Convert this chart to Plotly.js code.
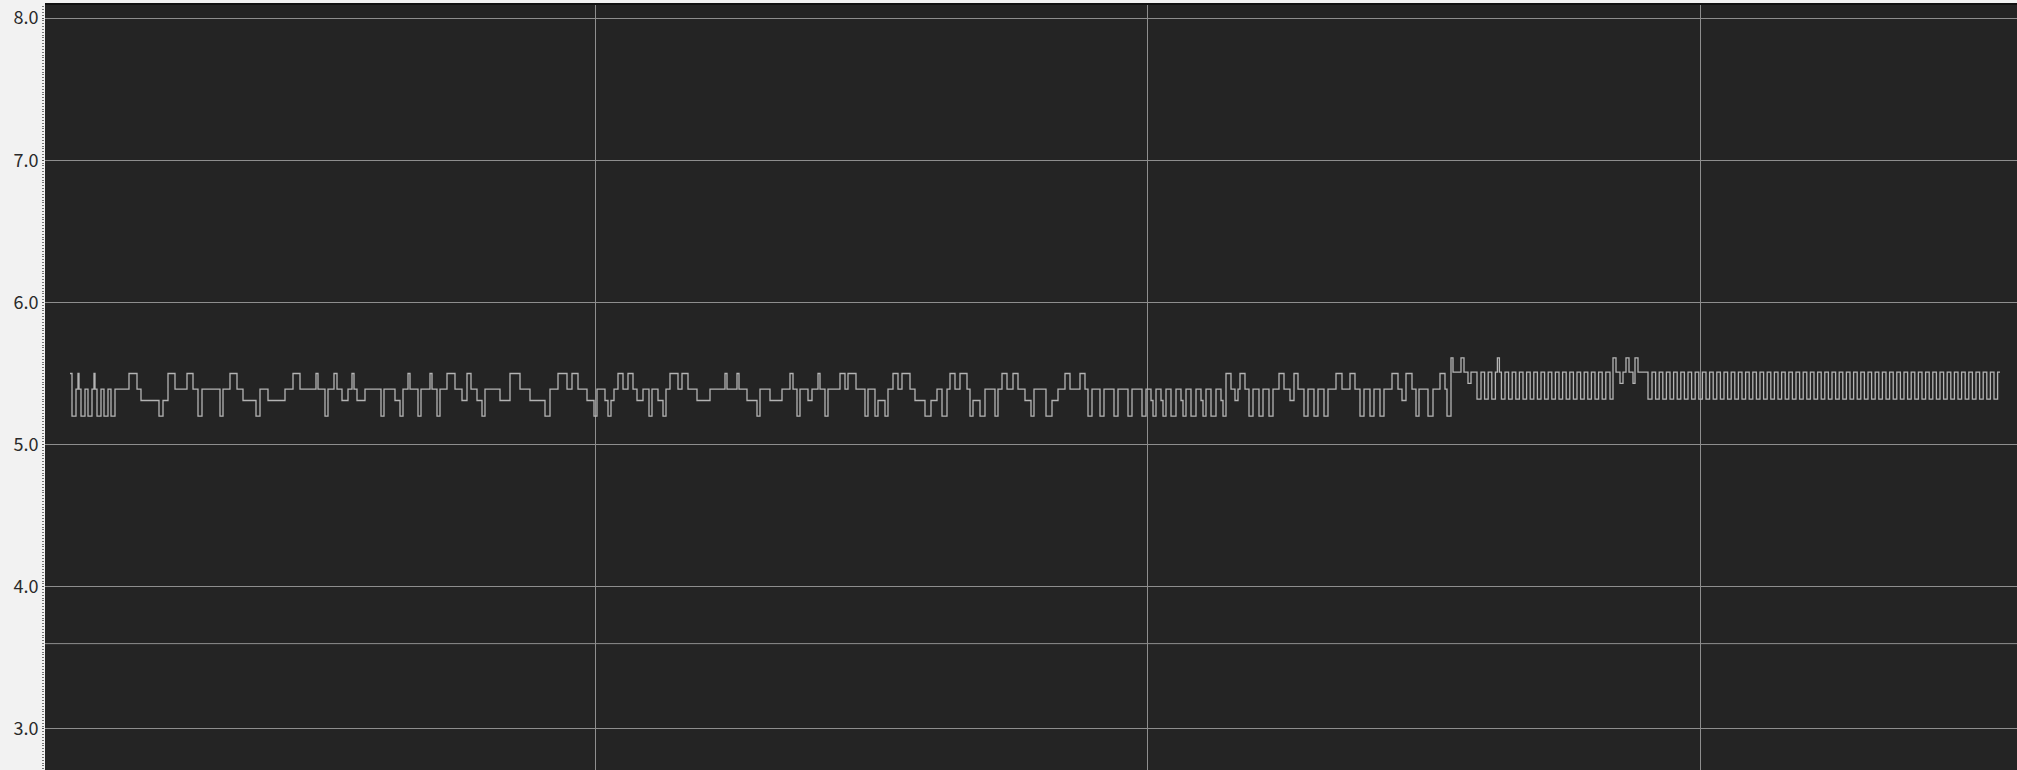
<!DOCTYPE html>
<html>
<head>
<meta charset="utf-8">
<script src="https://cdn.plot.ly/plotly-3.0.1.min.js"></script>
<style>html,body{margin:0;padding:0;background:#f2f2f2;}#chart{width:2017px;height:770px;}</style>
</head>
<body>
<div id="chart"></div>
<script>
// signal levels (V)
const A = 5.50, B = 5.39, C = 5.31, D = 5.20;   // left regime
const E = 5.61, F = 5.51, G = 5.32, H = 5.43;   // right regime

// y-axis labelled ticks and the extra reference line
const yTicks = [3.0, 4.0, 5.0, 6.0, 7.0, 8.0];
const refLines = [3.6];

// trace start time and segments [level, duration]
const traceStart = 27.5;

const seg1 = [[A,2],[D,4],[B,2],[A,1],[B,2],[D,4],[B,3],[D,4],[B,2],[A,1],[B,2],[D,4],[B,3],[D,4],[B,3],[D,4],
  [B,14],[A,8],[B,4],[C,18],[D,4],[C,5],[A,7],[B,12],[A,6],[B,5],[D,4],[B,18],[D,3],[B,7],[A,7],[B,6],[C,13],[D,4],
  [B,8],[C,17],[B,8],[A,7],[B,16],[A,2],[B,7],[D,3],[B,6]];

const seg2 = [[A,3],[B,5],[C,6],[B,4],[A,2],[B,3],[C,8],[B,16],[D,3],[B,11],[C,5],[D,3],[B,5],[A,2],[B,8],[D,3],
  [B,9],[A,2],[B,5],[D,3],[B,7],[A,8],[B,7],[C,5],[A,4],[B,6],[C,5],[D,3],[B,15],[C,10],[A,10],[B,10],[C,15],[D,5],
  [B,8],[A,9],[B,5],[A,6],[B,9],[C,7],[D,3],[B,8]];

const seg3 = [[C,3],[D,3],[C,3],[B,4],[A,5],[B,5],[A,5],[B,4],[C,6],[B,6],[D,3],[B,6],[C,5],[D,3],[B,4],[A,8],
  [B,4],[A,6],[B,9],[C,13],[B,15],[A,2],[B,10],[A,2],[B,8],[C,10],[D,3],[B,10],[C,12],[B,8],[A,3],[B,4],[D,3],
  [B,8],[C,4],[B,6],[A,2],[B,5],[D,3],[B,12],[A,5],[B,3],[A,8],[B,9],[D,3],[B,7],[D,3]];

const seg4 = [[C,7],[D,3],[B,5],[A,5],[B,4],[A,8],[B,5],[C,10],[D,6],[C,6],[B,5],[D,5],[B,3],[A,5],[B,5],[A,7],
  [B,3],[D,3],[C,7],[D,5],[B,10],[D,3],[B,4],[A,5],[B,6],[A,5],[B,7],[C,6],[D,3],[B,12],[D,6],[C,6],[B,7],[A,5],
  [B,10],[A,5],[B,3],[D,4],[B,8],[D,4],[B,10],[D,4],[B,10],[D,4],[B,10],[D,4]];

const seg5 = [[B,5],[C,2],[D,3],[B,5],[C,2],[D,3],[B,5],[D,5],[B,5],[C,2],[D,3],[B,5],[D,5],[B,5],[C,2],[D,3],
  [B,5],[D,5],[B,5],[C,2],[D,3],
  [A,5],[B,4],[C,3],[B,2],[A,5],[B,4],[D,4],[B,6],[D,4],[B,6],[D,4],[B,6],[A,5],[B,6],[C,4],[A,4],[B,6],[D,4],
  [B,6],[D,4],[B,6],[D,4],[B,8],[A,6],[B,8],[A,5],[B,5],[D,4],[B,6],[D,4],[B,6],[D,4],[B,8],[A,6],[B,4],[C,4],
  [A,6],[B,4],[D,3],[B,9],[D,5],[B,7],[A,5],[B,2],[D,4]];

const seg6 = [[E,2],[F,8],[E,3],[F,4],[H,3],[F,6],[G,4],
  [F,3.6],[G,3.6],[F,3.6],[G,3.6],[F,2],[E,2],[F,2],[G,3.6],
  [F,3.6],[G,3.6],[F,3.6],[G,3.6],[F,3.6],[G,3.6],[F,3.6],[G,3.6],[F,3.6],[G,3.6],[F,3.6],[G,3.6],[F,3.6],[G,3.6],
  [F,3.6],[G,3.6],[F,3.6],[G,3.6],[F,3.6],[G,3.6],[F,3.6],[G,3.6],[F,3.6],[G,3.6],[F,3.6],[G,3.6],[F,3.6],[G,3.6],
  [F,4.2],[G,3],[E,3],[F,4],[H,3],[F,3],[E,3],[F,4],[H,2],[E,3],[F,10],[G,4]];

const seg7 = [[F,3.6],[G,3.6],[F,3.6],[G,3.6],[F,3.6],[G,3.6],[F,3.6],[G,3.6],[F,3.6],[G,3.6],[F,3.6],[G,3.6],
  [F,3.6],[G,3.6],[F,3.6],[G,3.6],[F,3.6],[G,3.6],[F,3.6],[G,3.6],[F,3.6],[G,3.6],[F,3.6],[G,3.6],
  [F,3.6],[G,3.6],[F,3.6],[G,3.6],[F,3.6],[G,3.6],[F,3.6],[G,3.6],[F,3.6],[G,3.6],[F,3.6],[G,3.6],
  [F,3.6],[G,3.6],[F,3.6],[G,3.6],[F,3.6],[G,3.6],[F,3.6],[G,3.6],[F,3.6],[G,3.6],[F,3.6],[G,3.6]];

const seg8 = [[F,3.6],[G,3.6],[F,3.6],[G,3.6],[F,3.6],[G,3.6],[F,3.6],[G,3.6],[F,3.6],[G,3.6],[F,3.6],[G,3.6],
  [F,3.6],[G,3.6],[F,3.6],[G,3.6],[F,3.6],[G,3.6],[F,3.6],[G,3.6],[F,3.6],[G,3.6],[F,3.6],[G,3.6],
  [F,3.6],[G,3.6],[F,3.6],[G,3.6],[F,3.6],[G,3.6],[F,3.6],[G,3.6],[F,3.6],[G,3.6],[F,3.6],[G,3.6],
  [F,3.6],[G,3.6],[F,3.6],[G,3.6],[F,3.6],[G,3.6],[F,3.6],[G,3.6],[F,3.6],[G,3.6],[F,3.6],[G,3.6],[F,2.4]];

// build step-trace points from segments
const segments = [].concat(seg1, seg2, seg3, seg4, seg5, seg6, seg7, seg8);
const xs = [], ys = [];
let t = traceStart;
segments.forEach(function (s) { xs.push(t); ys.push(s[0]); t += s[1]; });
xs.push(t); ys.push(segments[segments.length - 1][0]);

const gridColor = '#8e8e8e';

const data = [{
  x: xs, y: ys, type: 'scatter', mode: 'lines',
  line: {shape: 'hv', color: '#b4b4b4', width: 1.3},
  hoverinfo: 'skip', showlegend: false
}];

const layout = {
  width: 2017, height: 770,
  margin: {l: 45, r: 0, t: 5, b: 0, pad: 0},
  paper_bgcolor: '#f2f2f2',
  plot_bgcolor: '#242424',
  showlegend: false,
  xaxis: {
    range: [2.5, 1974.5], tick0: 0, dtick: 552.5,
    showticklabels: false, ticks: '',
    showgrid: true, gridcolor: gridColor, gridwidth: 1,
    zeroline: false, showline: true, linecolor: '#111', linewidth: 2, mirror: true
  },
  yaxis: {
    range: [2.711, 8.092], tickmode: 'array', tickvals: yTicks,
    ticktext: yTicks.map(function (v) { return v.toFixed(1); }),
    showgrid: true, gridcolor: gridColor, gridwidth: 1, zeroline: false,
    ticks: 'outside', ticklen: 2, tickcolor: '#555',
    minor: {dtick: 0.02, tick0: 0, ticks: 'outside', ticklen: 2, tickcolor: '#777', showgrid: false},
    tickfont: {family: 'Noto Sans CJK JP, Noto Sans, sans-serif', size: 18, color: '#2a2a2a'},
    showline: false
  },
  shapes: refLines.map(function (v) {
    return {type: 'line', xref: 'paper', x0: 0, x1: 1, yref: 'y', y0: v, y1: v,
            line: {color: gridColor, width: 1}, layer: 'above'};
  })
};

Plotly.newPlot('chart', data, layout, {staticPlot: true, displayModeBar: false});
</script>
</body>
</html>
